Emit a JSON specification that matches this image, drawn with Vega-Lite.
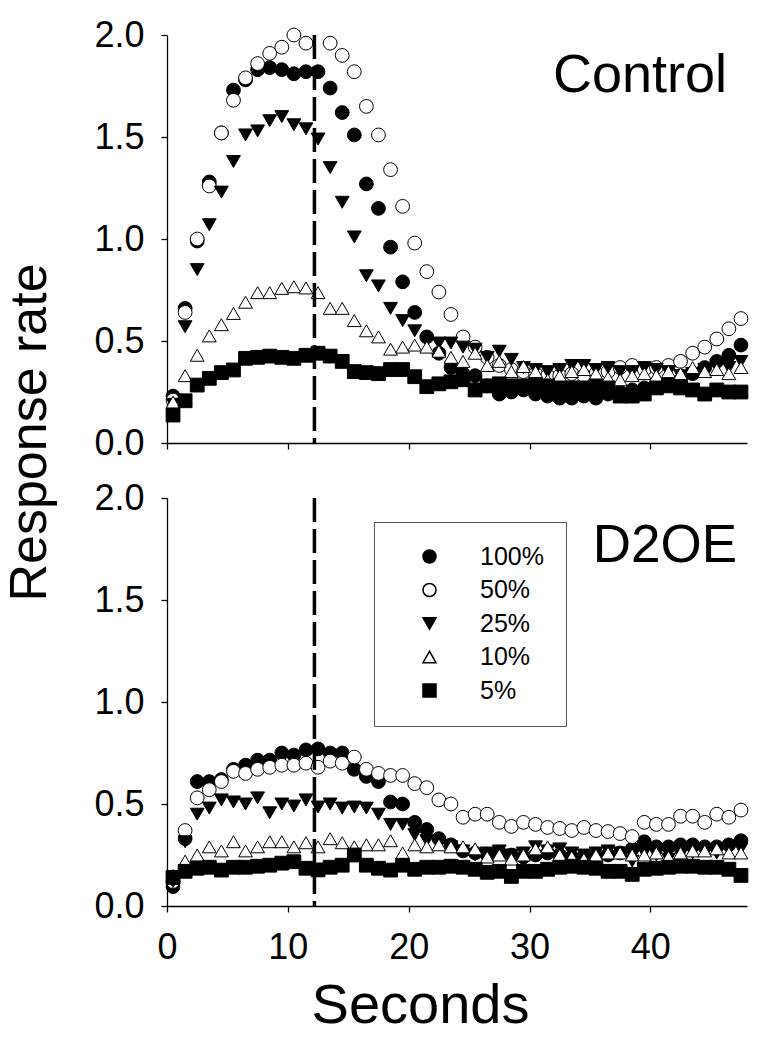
{
  "$schema": "https://vega.github.io/schema/vega-lite/v6.json",
  "background": "white",
  "padding": {"left": 3, "top": 17, "right": 25, "bottom": 10},
  "config": {
    "font": "Liberation Sans",
    "view": {"stroke": null},
    "axis": {
      "grid": false,
      "domainColor": "black",
      "domainWidth": 1.3,
      "tickColor": "black",
      "tickWidth": 1.3,
      "tickSize": 6,
      "labelFont": "Liberation Sans",
      "labelFontSize": 36,
      "labelColor": "black",
      "labelFlush": false,
      "titleFont": "Liberation Sans",
      "titleFontWeight": "normal",
      "titleColor": "black"
    },
    "axisX": {"labelPadding": 18},
    "axisY": {"labelPadding": 17}
  },
  "datasets": {
    "control": [
      {"s":"100%","t":0.5,"v":0.23},{"s":"100%","t":1.5,"v":0.66},{"s":"100%","t":2.5,"v":0.99},{"s":"100%","t":3.5,"v":1.28},{"s":"100%","t":4.5,"v":1.52},{"s":"100%","t":5.5,"v":1.73},{"s":"100%","t":6.5,"v":1.78},{"s":"100%","t":7.5,"v":1.83},{"s":"100%","t":8.5,"v":1.84},{"s":"100%","t":9.5,"v":1.83},{"s":"100%","t":10.5,"v":1.81},{"s":"100%","t":11.5,"v":1.82},{"s":"100%","t":12.5,"v":1.82},{"s":"100%","t":13.5,"v":1.74},{"s":"100%","t":14.5,"v":1.62},{"s":"100%","t":15.5,"v":1.51},{"s":"100%","t":16.5,"v":1.27},{"s":"100%","t":17.5,"v":1.15},{"s":"100%","t":18.5,"v":0.96},{"s":"100%","t":19.5,"v":0.79},{"s":"100%","t":20.5,"v":0.64},{"s":"100%","t":21.5,"v":0.52},{"s":"100%","t":22.5,"v":0.44},{"s":"100%","t":23.5,"v":0.37},{"s":"100%","t":24.5,"v":0.34},{"s":"100%","t":25.5,"v":0.33},{"s":"100%","t":26.5,"v":0.28},{"s":"100%","t":27.5,"v":0.24},{"s":"100%","t":28.5,"v":0.25},{"s":"100%","t":29.5,"v":0.26},{"s":"100%","t":30.5,"v":0.24},{"s":"100%","t":31.5,"v":0.23},{"s":"100%","t":32.5,"v":0.22},{"s":"100%","t":33.5,"v":0.22},{"s":"100%","t":34.5,"v":0.23},{"s":"100%","t":35.5,"v":0.22},{"s":"100%","t":36.5,"v":0.24},{"s":"100%","t":37.5,"v":0.25},{"s":"100%","t":38.5,"v":0.26},{"s":"100%","t":39.5,"v":0.27},{"s":"100%","t":40.5,"v":0.28},{"s":"100%","t":41.5,"v":0.30},{"s":"100%","t":42.5,"v":0.31},{"s":"100%","t":43.5,"v":0.34},{"s":"100%","t":44.5,"v":0.37},{"s":"100%","t":45.5,"v":0.40},{"s":"100%","t":46.5,"v":0.43},{"s":"100%","t":47.5,"v":0.48},
      {"s":"50%","t":0.5,"v":0.21},{"s":"50%","t":1.5,"v":0.64},{"s":"50%","t":2.5,"v":1.00},{"s":"50%","t":3.5,"v":1.26},{"s":"50%","t":4.5,"v":1.52},{"s":"50%","t":5.5,"v":1.68},{"s":"50%","t":6.5,"v":1.79},{"s":"50%","t":7.5,"v":1.86},{"s":"50%","t":8.5,"v":1.91},{"s":"50%","t":9.5,"v":1.94},{"s":"50%","t":10.5,"v":2.00},{"s":"50%","t":11.5,"v":1.96},{"s":"50%","t":13.5,"v":1.96},{"s":"50%","t":14.5,"v":1.90},{"s":"50%","t":15.5,"v":1.82},{"s":"50%","t":16.5,"v":1.65},{"s":"50%","t":17.5,"v":1.51},{"s":"50%","t":18.5,"v":1.34},{"s":"50%","t":19.5,"v":1.16},{"s":"50%","t":20.5,"v":0.98},{"s":"50%","t":21.5,"v":0.84},{"s":"50%","t":22.5,"v":0.74},{"s":"50%","t":23.5,"v":0.63},{"s":"50%","t":24.5,"v":0.52},{"s":"50%","t":25.5,"v":0.47},{"s":"50%","t":26.5,"v":0.42},{"s":"50%","t":27.5,"v":0.38},{"s":"50%","t":28.5,"v":0.36},{"s":"50%","t":29.5,"v":0.35},{"s":"50%","t":30.5,"v":0.34},{"s":"50%","t":31.5,"v":0.33},{"s":"50%","t":32.5,"v":0.33},{"s":"50%","t":33.5,"v":0.34},{"s":"50%","t":34.5,"v":0.33},{"s":"50%","t":35.5,"v":0.34},{"s":"50%","t":36.5,"v":0.35},{"s":"50%","t":37.5,"v":0.37},{"s":"50%","t":38.5,"v":0.38},{"s":"50%","t":39.5,"v":0.36},{"s":"50%","t":40.5,"v":0.37},{"s":"50%","t":41.5,"v":0.38},{"s":"50%","t":42.5,"v":0.40},{"s":"50%","t":43.5,"v":0.44},{"s":"50%","t":44.5,"v":0.47},{"s":"50%","t":45.5,"v":0.51},{"s":"50%","t":46.5,"v":0.56},{"s":"50%","t":47.5,"v":0.61},
      {"s":"25%","t":0.5,"v":0.19},{"s":"25%","t":1.5,"v":0.57},{"s":"25%","t":2.5,"v":0.85},{"s":"25%","t":3.5,"v":1.07},{"s":"25%","t":4.5,"v":1.23},{"s":"25%","t":5.5,"v":1.38},{"s":"25%","t":6.5,"v":1.51},{"s":"25%","t":7.5,"v":1.53},{"s":"25%","t":8.5,"v":1.58},{"s":"25%","t":9.5,"v":1.60},{"s":"25%","t":10.5,"v":1.56},{"s":"25%","t":11.5,"v":1.54},{"s":"25%","t":12.5,"v":1.49},{"s":"25%","t":13.5,"v":1.35},{"s":"25%","t":14.5,"v":1.18},{"s":"25%","t":15.5,"v":1.01},{"s":"25%","t":16.5,"v":0.82},{"s":"25%","t":17.5,"v":0.77},{"s":"25%","t":18.5,"v":0.66},{"s":"25%","t":19.5,"v":0.60},{"s":"25%","t":20.5,"v":0.55},{"s":"25%","t":21.5,"v":0.50},{"s":"25%","t":22.5,"v":0.49},{"s":"25%","t":23.5,"v":0.49},{"s":"25%","t":24.5,"v":0.47},{"s":"25%","t":25.5,"v":0.46},{"s":"25%","t":26.5,"v":0.42},{"s":"25%","t":27.5,"v":0.45},{"s":"25%","t":28.5,"v":0.41},{"s":"25%","t":29.5,"v":0.37},{"s":"25%","t":30.5,"v":0.36},{"s":"25%","t":31.5,"v":0.35},{"s":"25%","t":32.5,"v":0.36},{"s":"25%","t":33.5,"v":0.38},{"s":"25%","t":34.5,"v":0.38},{"s":"25%","t":35.5,"v":0.36},{"s":"25%","t":36.5,"v":0.37},{"s":"25%","t":37.5,"v":0.35},{"s":"25%","t":38.5,"v":0.35},{"s":"25%","t":39.5,"v":0.37},{"s":"25%","t":40.5,"v":0.36},{"s":"25%","t":41.5,"v":0.35},{"s":"25%","t":42.5,"v":0.33},{"s":"25%","t":43.5,"v":0.34},{"s":"25%","t":44.5,"v":0.36},{"s":"25%","t":45.5,"v":0.38},{"s":"25%","t":46.5,"v":0.37},{"s":"25%","t":47.5,"v":0.40},
      {"s":"10%","t":0.5,"v":0.20},{"s":"10%","t":1.5,"v":0.33},{"s":"10%","t":2.5,"v":0.43},{"s":"10%","t":3.5,"v":0.525},{"s":"10%","t":4.5,"v":0.58},{"s":"10%","t":5.5,"v":0.635},{"s":"10%","t":6.5,"v":0.69},{"s":"10%","t":7.5,"v":0.737},{"s":"10%","t":8.5,"v":0.737},{"s":"10%","t":9.5,"v":0.758},{"s":"10%","t":10.5,"v":0.766},{"s":"10%","t":11.5,"v":0.76},{"s":"10%","t":12.5,"v":0.737},{"s":"10%","t":13.5,"v":0.66},{"s":"10%","t":14.5,"v":0.66},{"s":"10%","t":15.5,"v":0.60},{"s":"10%","t":16.5,"v":0.55},{"s":"10%","t":17.5,"v":0.52},{"s":"10%","t":18.5,"v":0.46},{"s":"10%","t":19.5,"v":0.47},{"s":"10%","t":20.5,"v":0.48},{"s":"10%","t":21.5,"v":0.47},{"s":"10%","t":22.5,"v":0.45},{"s":"10%","t":23.5,"v":0.42},{"s":"10%","t":24.5,"v":0.40},{"s":"10%","t":25.5,"v":0.44},{"s":"10%","t":26.5,"v":0.38},{"s":"10%","t":27.5,"v":0.40},{"s":"10%","t":28.5,"v":0.35},{"s":"10%","t":29.5,"v":0.375},{"s":"10%","t":30.5,"v":0.35},{"s":"10%","t":31.5,"v":0.31},{"s":"10%","t":32.5,"v":0.33},{"s":"10%","t":33.5,"v":0.35},{"s":"10%","t":34.5,"v":0.36},{"s":"10%","t":35.5,"v":0.34},{"s":"10%","t":36.5,"v":0.32},{"s":"10%","t":37.5,"v":0.31},{"s":"10%","t":38.5,"v":0.33},{"s":"10%","t":39.5,"v":0.34},{"s":"10%","t":40.5,"v":0.33},{"s":"10%","t":41.5,"v":0.35},{"s":"10%","t":42.5,"v":0.34},{"s":"10%","t":43.5,"v":0.37},{"s":"10%","t":44.5,"v":0.35},{"s":"10%","t":45.5,"v":0.36},{"s":"10%","t":46.5,"v":0.34},{"s":"10%","t":47.5,"v":0.37},
      {"s":"5%","t":0.5,"v":0.137},{"s":"5%","t":1.5,"v":0.207},{"s":"5%","t":2.5,"v":0.284},{"s":"5%","t":3.5,"v":0.317},{"s":"5%","t":4.5,"v":0.345},{"s":"5%","t":5.5,"v":0.358},{"s":"5%","t":6.5,"v":0.415},{"s":"5%","t":7.5,"v":0.42},{"s":"5%","t":8.5,"v":0.426},{"s":"5%","t":9.5,"v":0.42},{"s":"5%","t":10.5,"v":0.415},{"s":"5%","t":11.5,"v":0.43},{"s":"5%","t":12.5,"v":0.44},{"s":"5%","t":13.5,"v":0.426},{"s":"5%","t":14.5,"v":0.40},{"s":"5%","t":15.5,"v":0.35},{"s":"5%","t":16.5,"v":0.345},{"s":"5%","t":17.5,"v":0.34},{"s":"5%","t":18.5,"v":0.36},{"s":"5%","t":19.5,"v":0.36},{"s":"5%","t":20.5,"v":0.325},{"s":"5%","t":21.5,"v":0.276},{"s":"5%","t":22.5,"v":0.29},{"s":"5%","t":23.5,"v":0.30},{"s":"5%","t":24.5,"v":0.31},{"s":"5%","t":25.5,"v":0.26},{"s":"5%","t":26.5,"v":0.28},{"s":"5%","t":27.5,"v":0.29},{"s":"5%","t":28.5,"v":0.28},{"s":"5%","t":29.5,"v":0.28},{"s":"5%","t":30.5,"v":0.285},{"s":"5%","t":31.5,"v":0.28},{"s":"5%","t":32.5,"v":0.27},{"s":"5%","t":33.5,"v":0.27},{"s":"5%","t":34.5,"v":0.27},{"s":"5%","t":35.5,"v":0.28},{"s":"5%","t":36.5,"v":0.27},{"s":"5%","t":37.5,"v":0.23},{"s":"5%","t":38.5,"v":0.23},{"s":"5%","t":39.5,"v":0.24},{"s":"5%","t":40.5,"v":0.27},{"s":"5%","t":41.5,"v":0.28},{"s":"5%","t":42.5,"v":0.27},{"s":"5%","t":43.5,"v":0.26},{"s":"5%","t":44.5,"v":0.24},{"s":"5%","t":45.5,"v":0.26},{"s":"5%","t":46.5,"v":0.25},{"s":"5%","t":47.5,"v":0.25}
    ],
    "d2oe": [
      {"s":"100%","t":0.5,"v":0.095},{"s":"100%","t":1.5,"v":0.33},{"s":"100%","t":2.5,"v":0.61},{"s":"100%","t":3.5,"v":0.61},{"s":"100%","t":4.5,"v":0.62},{"s":"100%","t":5.5,"v":0.67},{"s":"100%","t":6.5,"v":0.69},{"s":"100%","t":7.5,"v":0.715},{"s":"100%","t":8.5,"v":0.715},{"s":"100%","t":9.5,"v":0.75},{"s":"100%","t":10.5,"v":0.74},{"s":"100%","t":11.5,"v":0.765},{"s":"100%","t":12.5,"v":0.77},{"s":"100%","t":13.5,"v":0.75},{"s":"100%","t":14.5,"v":0.75},{"s":"100%","t":15.5,"v":0.67},{"s":"100%","t":16.5,"v":0.635},{"s":"100%","t":17.5,"v":0.61},{"s":"100%","t":18.5,"v":0.51},{"s":"100%","t":19.5,"v":0.50},{"s":"100%","t":20.5,"v":0.41},{"s":"100%","t":21.5,"v":0.375},{"s":"100%","t":22.5,"v":0.33},{"s":"100%","t":23.5,"v":0.30},{"s":"100%","t":24.5,"v":0.27},{"s":"100%","t":25.5,"v":0.26},{"s":"100%","t":26.5,"v":0.25},{"s":"100%","t":27.5,"v":0.26},{"s":"100%","t":28.5,"v":0.25},{"s":"100%","t":29.5,"v":0.24},{"s":"100%","t":30.5,"v":0.25},{"s":"100%","t":31.5,"v":0.26},{"s":"100%","t":32.5,"v":0.25},{"s":"100%","t":33.5,"v":0.24},{"s":"100%","t":34.5,"v":0.24},{"s":"100%","t":35.5,"v":0.25},{"s":"100%","t":36.5,"v":0.25},{"s":"100%","t":37.5,"v":0.26},{"s":"100%","t":38.5,"v":0.28},{"s":"100%","t":39.5,"v":0.315},{"s":"100%","t":40.5,"v":0.29},{"s":"100%","t":41.5,"v":0.29},{"s":"100%","t":42.5,"v":0.30},{"s":"100%","t":43.5,"v":0.30},{"s":"100%","t":44.5,"v":0.29},{"s":"100%","t":45.5,"v":0.29},{"s":"100%","t":46.5,"v":0.30},{"s":"100%","t":47.5,"v":0.32},
      {"s":"50%","t":0.5,"v":0.12},{"s":"50%","t":1.5,"v":0.37},{"s":"50%","t":2.5,"v":0.53},{"s":"50%","t":3.5,"v":0.57},{"s":"50%","t":4.5,"v":0.61},{"s":"50%","t":5.5,"v":0.66},{"s":"50%","t":6.5,"v":0.65},{"s":"50%","t":7.5,"v":0.67},{"s":"50%","t":8.5,"v":0.68},{"s":"50%","t":9.5,"v":0.69},{"s":"50%","t":10.5,"v":0.69},{"s":"50%","t":11.5,"v":0.70},{"s":"50%","t":12.5,"v":0.68},{"s":"50%","t":13.5,"v":0.71},{"s":"50%","t":14.5,"v":0.70},{"s":"50%","t":15.5,"v":0.73},{"s":"50%","t":16.5,"v":0.67},{"s":"50%","t":17.5,"v":0.65},{"s":"50%","t":18.5,"v":0.64},{"s":"50%","t":19.5,"v":0.64},{"s":"50%","t":20.5,"v":0.60},{"s":"50%","t":21.5,"v":0.58},{"s":"50%","t":22.5,"v":0.52},{"s":"50%","t":23.5,"v":0.50},{"s":"50%","t":24.5,"v":0.435},{"s":"50%","t":25.5,"v":0.45},{"s":"50%","t":26.5,"v":0.45},{"s":"50%","t":27.5,"v":0.41},{"s":"50%","t":28.5,"v":0.39},{"s":"50%","t":29.5,"v":0.41},{"s":"50%","t":30.5,"v":0.40},{"s":"50%","t":31.5,"v":0.385},{"s":"50%","t":32.5,"v":0.38},{"s":"50%","t":33.5,"v":0.37},{"s":"50%","t":34.5,"v":0.385},{"s":"50%","t":35.5,"v":0.37},{"s":"50%","t":36.5,"v":0.365},{"s":"50%","t":37.5,"v":0.355},{"s":"50%","t":38.5,"v":0.34},{"s":"50%","t":39.5,"v":0.41},{"s":"50%","t":40.5,"v":0.40},{"s":"50%","t":41.5,"v":0.40},{"s":"50%","t":42.5,"v":0.44},{"s":"50%","t":43.5,"v":0.44},{"s":"50%","t":44.5,"v":0.41},{"s":"50%","t":45.5,"v":0.45},{"s":"50%","t":46.5,"v":0.435},{"s":"50%","t":47.5,"v":0.47},
      {"s":"25%","t":0.5,"v":0.12},{"s":"25%","t":1.5,"v":0.315},{"s":"25%","t":2.5,"v":0.45},{"s":"25%","t":3.5,"v":0.48},{"s":"25%","t":4.5,"v":0.52},{"s":"25%","t":5.5,"v":0.51},{"s":"25%","t":6.5,"v":0.50},{"s":"25%","t":7.5,"v":0.53},{"s":"25%","t":8.5,"v":0.457},{"s":"25%","t":9.5,"v":0.50},{"s":"25%","t":10.5,"v":0.49},{"s":"25%","t":11.5,"v":0.52},{"s":"25%","t":12.5,"v":0.485},{"s":"25%","t":13.5,"v":0.50},{"s":"25%","t":14.5,"v":0.48},{"s":"25%","t":15.5,"v":0.485},{"s":"25%","t":16.5,"v":0.48},{"s":"25%","t":17.5,"v":0.45},{"s":"25%","t":18.5,"v":0.40},{"s":"25%","t":19.5,"v":0.40},{"s":"25%","t":20.5,"v":0.35},{"s":"25%","t":21.5,"v":0.32},{"s":"25%","t":22.5,"v":0.30},{"s":"25%","t":23.5,"v":0.29},{"s":"25%","t":24.5,"v":0.27},{"s":"25%","t":25.5,"v":0.25},{"s":"25%","t":26.5,"v":0.26},{"s":"25%","t":27.5,"v":0.27},{"s":"25%","t":28.5,"v":0.25},{"s":"25%","t":29.5,"v":0.26},{"s":"25%","t":30.5,"v":0.29},{"s":"25%","t":31.5,"v":0.27},{"s":"25%","t":32.5,"v":0.28},{"s":"25%","t":33.5,"v":0.26},{"s":"25%","t":34.5,"v":0.25},{"s":"25%","t":35.5,"v":0.26},{"s":"25%","t":36.5,"v":0.27},{"s":"25%","t":37.5,"v":0.26},{"s":"25%","t":38.5,"v":0.22},{"s":"25%","t":39.5,"v":0.26},{"s":"25%","t":40.5,"v":0.25},{"s":"25%","t":41.5,"v":0.23},{"s":"25%","t":42.5,"v":0.25},{"s":"25%","t":43.5,"v":0.26},{"s":"25%","t":44.5,"v":0.27},{"s":"25%","t":45.5,"v":0.26},{"s":"25%","t":46.5,"v":0.28},{"s":"25%","t":47.5,"v":0.28},
      {"s":"10%","t":0.5,"v":0.15},{"s":"10%","t":1.5,"v":0.22},{"s":"10%","t":2.5,"v":0.25},{"s":"10%","t":3.5,"v":0.29},{"s":"10%","t":4.5,"v":0.27},{"s":"10%","t":5.5,"v":0.315},{"s":"10%","t":6.5,"v":0.27},{"s":"10%","t":7.5,"v":0.29},{"s":"10%","t":8.5,"v":0.315},{"s":"10%","t":9.5,"v":0.315},{"s":"10%","t":10.5,"v":0.29},{"s":"10%","t":11.5,"v":0.31},{"s":"10%","t":12.5,"v":0.29},{"s":"10%","t":13.5,"v":0.33},{"s":"10%","t":14.5,"v":0.31},{"s":"10%","t":15.5,"v":0.29},{"s":"10%","t":16.5,"v":0.30},{"s":"10%","t":17.5,"v":0.30},{"s":"10%","t":18.5,"v":0.32},{"s":"10%","t":19.5,"v":0.26},{"s":"10%","t":20.5,"v":0.30},{"s":"10%","t":21.5,"v":0.29},{"s":"10%","t":22.5,"v":0.30},{"s":"10%","t":23.5,"v":0.29},{"s":"10%","t":24.5,"v":0.29},{"s":"10%","t":25.5,"v":0.28},{"s":"10%","t":26.5,"v":0.24},{"s":"10%","t":27.5,"v":0.25},{"s":"10%","t":28.5,"v":0.23},{"s":"10%","t":29.5,"v":0.25},{"s":"10%","t":30.5,"v":0.28},{"s":"10%","t":31.5,"v":0.29},{"s":"10%","t":32.5,"v":0.25},{"s":"10%","t":33.5,"v":0.24},{"s":"10%","t":34.5,"v":0.23},{"s":"10%","t":35.5,"v":0.25},{"s":"10%","t":36.5,"v":0.26},{"s":"10%","t":37.5,"v":0.26},{"s":"10%","t":38.5,"v":0.25},{"s":"10%","t":39.5,"v":0.25},{"s":"10%","t":40.5,"v":0.26},{"s":"10%","t":41.5,"v":0.24},{"s":"10%","t":42.5,"v":0.26},{"s":"10%","t":43.5,"v":0.27},{"s":"10%","t":44.5,"v":0.27},{"s":"10%","t":45.5,"v":0.28},{"s":"10%","t":46.5,"v":0.26},{"s":"10%","t":47.5,"v":0.26},
      {"s":"5%","t":0.5,"v":0.14},{"s":"5%","t":1.5,"v":0.17},{"s":"5%","t":2.5,"v":0.185},{"s":"5%","t":3.5,"v":0.19},{"s":"5%","t":4.5,"v":0.176},{"s":"5%","t":5.5,"v":0.19},{"s":"5%","t":6.5,"v":0.19},{"s":"5%","t":7.5,"v":0.195},{"s":"5%","t":8.5,"v":0.20},{"s":"5%","t":9.5,"v":0.21},{"s":"5%","t":10.5,"v":0.217},{"s":"5%","t":11.5,"v":0.185},{"s":"5%","t":12.5,"v":0.177},{"s":"5%","t":13.5,"v":0.19},{"s":"5%","t":14.5,"v":0.20},{"s":"5%","t":15.5,"v":0.25},{"s":"5%","t":16.5,"v":0.20},{"s":"5%","t":17.5,"v":0.185},{"s":"5%","t":18.5,"v":0.176},{"s":"5%","t":19.5,"v":0.20},{"s":"5%","t":20.5,"v":0.18},{"s":"5%","t":21.5,"v":0.19},{"s":"5%","t":22.5,"v":0.19},{"s":"5%","t":23.5,"v":0.195},{"s":"5%","t":24.5,"v":0.19},{"s":"5%","t":25.5,"v":0.18},{"s":"5%","t":26.5,"v":0.165},{"s":"5%","t":27.5,"v":0.17},{"s":"5%","t":28.5,"v":0.145},{"s":"5%","t":29.5,"v":0.17},{"s":"5%","t":30.5,"v":0.17},{"s":"5%","t":31.5,"v":0.18},{"s":"5%","t":32.5,"v":0.19},{"s":"5%","t":33.5,"v":0.195},{"s":"5%","t":34.5,"v":0.19},{"s":"5%","t":35.5,"v":0.185},{"s":"5%","t":36.5,"v":0.17},{"s":"5%","t":37.5,"v":0.17},{"s":"5%","t":38.5,"v":0.155},{"s":"5%","t":39.5,"v":0.18},{"s":"5%","t":40.5,"v":0.185},{"s":"5%","t":41.5,"v":0.19},{"s":"5%","t":42.5,"v":0.195},{"s":"5%","t":43.5,"v":0.195},{"s":"5%","t":44.5,"v":0.19},{"s":"5%","t":45.5,"v":0.19},{"s":"5%","t":46.5,"v":0.18},{"s":"5%","t":47.5,"v":0.15}
    ]
  },
  "bounds": "flush",
  "spacing": 55,
  "resolve": {"legend": {"fill": "independent", "shape": "independent"}},
  "vconcat": [
    {
      "width": 580,
      "height": 408,
      "layer": [
        {
          "data": {"name": "control"},
          "mark": {"type": "point", "filled": true, "size": 190, "stroke": "black", "strokeWidth": 1, "opacity": 1},
          "encoding": {
            "x": {"field": "t", "type": "quantitative", "scale": {"domain": [0, 48], "nice": false},
                  "axis": {"values": [0, 10, 20, 30, 40], "labels": false, "title": null}},
            "y": {"field": "v", "type": "quantitative", "scale": {"domain": [0, 2], "nice": false},
                  "axis": {"values": [0, 0.5, 1, 1.5, 2], "format": ".1f", "title": "Response rate",
                           "titleFontSize": 52, "titleAngle": 270, "titleAlign": "center",
                           "titleBaseline": "alphabetic", "titleX": -122, "titleY": 397}},
            "shape": {"field": "s", "type": "nominal", "legend": null,
                      "scale": {"domain": ["100%", "50%", "25%", "10%", "5%"],
                                "range": ["circle", "circle", "triangle-down", "triangle-up", "square"]}},
            "fill": {"field": "s", "type": "nominal", "legend": null,
                     "scale": {"domain": ["100%", "50%", "25%", "10%", "5%"],
                               "range": ["black", "white", "black", "white", "black"]}}
          }
        },
        {
          "data": {"values": [{"t": 12.2}]},
          "mark": {"type": "rule", "color": "black", "strokeWidth": 3.5, "strokeDash": [24, 7]},
          "encoding": {"x": {"field": "t", "type": "quantitative"}}
        },
        {
          "data": {"values": [{}]},
          "mark": {"type": "text", "text": "Control", "fontSize": 54, "align": "center", "baseline": "alphabetic", "color": "black"},
          "encoding": {"x": {"datum": 39.15}, "y": {"datum": 1.72}}
        }
      ]
    },
    {
      "width": 580,
      "height": 408,
      "layer": [
        {
          "data": {"name": "d2oe"},
          "mark": {"type": "point", "filled": true, "size": 190, "stroke": "black", "strokeWidth": 1, "opacity": 1},
          "encoding": {
            "x": {"field": "t", "type": "quantitative", "scale": {"domain": [0, 48], "nice": false},
                  "axis": {"values": [0, 10, 20, 30, 40], "title": "Seconds", "titleFontSize": 56,
                           "titleAlign": "center", "titleBaseline": "alphabetic", "titleX": 253, "titleY": 116}},
            "y": {"field": "v", "type": "quantitative", "scale": {"domain": [0, 2], "nice": false},
                  "axis": {"values": [0, 0.5, 1, 1.5, 2], "format": ".1f", "title": null}},
            "shape": {"field": "s", "type": "nominal",
                      "scale": {"domain": ["100%", "50%", "25%", "10%", "5%"],
                                "range": ["circle", "circle", "triangle-down", "triangle-up", "square"]},
                      "legend": {"title": null, "orient": "none", "legendX": 207, "legendY": 24,
                                 "strokeColor": "#555555", "fillColor": "white", "padding": 22,
                                 "symbolOffset": 21, "labelOffset": 38, "rowPadding": 7.5,
                                 "labelFontSize": 25, "labelFont": "Liberation Sans", "labelColor": "black",
                                 "symbolSize": 170,
                                 "encode": {"symbols": {"update": {"stroke": {"value": "black"}, "strokeWidth": {"value": 1}}}}}},
            "fill": {"field": "s", "type": "nominal",
                     "scale": {"domain": ["100%", "50%", "25%", "10%", "5%"],
                               "range": ["black", "white", "black", "white", "black"]},
                     "legend": {"title": null, "orient": "none", "legendX": 207, "legendY": 24,
                                "strokeColor": "#555555", "fillColor": "white", "padding": 22,
                                "symbolOffset": 21, "labelOffset": 38, "rowPadding": 7.5,
                                "labelFontSize": 25, "labelFont": "Liberation Sans", "labelColor": "black",
                                "symbolSize": 170,
                                "encode": {"symbols": {"update": {"stroke": {"value": "black"}, "strokeWidth": {"value": 1}}}}}}
          }
        },
        {
          "data": {"values": [{"t": 12.2}]},
          "mark": {"type": "rule", "color": "black", "strokeWidth": 3.5, "strokeDash": [24, 7]},
          "encoding": {"x": {"field": "t", "type": "quantitative"}}
        },
        {
          "data": {"values": [{}]},
          "mark": {"type": "text", "text": "D2OE", "fontSize": 53, "align": "center", "baseline": "alphabetic", "color": "black"},
          "encoding": {"x": {"datum": 41.2}, "y": {"datum": 1.686}}
        }
      ]
    }
  ]
}
